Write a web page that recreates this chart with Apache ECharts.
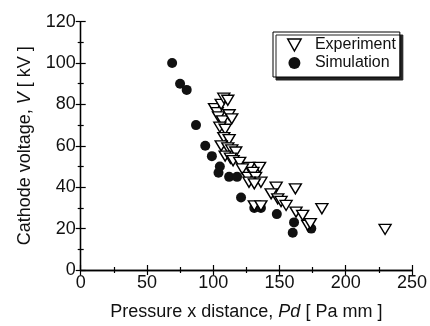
<!DOCTYPE html>
<html><head><meta charset="utf-8">
<script src="https://cdn.jsdelivr.net/npm/echarts@6/dist/echarts.min.js"></script>
<style>html,body{margin:0;padding:0;background:#fff}#c{width:430px;height:326px}</style>
</head><body><div id="c"></div>
<script>
// Experiment (Pd [Pa mm], V [kV])
var experimentPd = [101,103,106,108,111,104,107,112,114,105,109,108,112,106,111,114,117,109,113,115,120,127,135,122,130,126,132,136,127,131,131,136,147.5,162,143.7,148.7,151.2,155,162.5,167.5,171.3,182,173.3,229.7];
var experimentV  = [78,76,80,83,82,74,72,75,73,69,68,64,63,60,59,58,57,55,54,52.8,52,49.6,49.6,48.8,47.2,44.8,44.8,42.4,42.4,41.6,31,31,40,39.2,36.8,34.4,33.1,31.2,28,26.4,21.6,29.6,22.4,19.6];
// Simulation
var simulationPd = [69,75,80,87,94,99,105,104,112,118,121,131,136,148,161,160,174];
var simulationV  = [100,90,87,70,60,55,50,47,45,45,35,30,30,27,23,18,20];
var xTicks = [0,50,100,150,200,250];
var yTicks = [0,20,40,60,80,100,120];

function pairs(a,b){return a.map(function(v,i){return [v,b[i]];});}
var tri = 'path://M0,0 L10,0 L5,9 Z';
var font = 'Liberation Sans, Arial, sans-serif';
var chart = echarts.init(document.getElementById('c'));
function axisCommon(){ return {
  axisLine:{show:true,lineStyle:{color:'#000',width:1.3}},
  axisTick:{show:true,inside:true,length:5,lineStyle:{color:'#000',width:1.2}},
  minorTick:{show:true,splitNumber:2,length:3,lineStyle:{color:'#000',width:1.2}},
  splitLine:{show:false}
};}
var titleRich = {n:{fontFamily:font,fontSize:18,color:'#111'},i:{fontFamily:font,fontSize:18,fontStyle:'italic',color:'#111'}};
chart.setOption({
  animation:false,
  grid:{left:80.7,right:17,top:21.6,bottom:54.4},
  legend:{
    orient:'vertical', left:273, top:32,
    padding:[5,4,6,14], itemGap:2, itemWidth:15, itemHeight:12,
    backgroundColor:'#fff', borderColor:'#000', borderWidth:1,
    shadowColor:'#222', shadowOffsetX:3, shadowOffsetY:3, shadowBlur:0,
    textStyle:{fontFamily:font,fontSize:16,color:'#111',padding:[0,0,0,8]},
    data:[{name:'Experiment',icon:tri,itemStyle:{color:'#fff',borderColor:'#000',borderWidth:1.5}},
          {name:'Simulation',icon:'circle'}]
  },
  xAxis:[
    Object.assign({type:'value',min:xTicks[0],max:xTicks[xTicks.length-1],interval:50,position:'bottom',
      name:'{n|Pressure x distance, }{i|Pd}{n| [ Pa mm ]}',nameLocation:'middle',nameGap:33,
      nameTextStyle:{rich:titleRich},
      axisLabel:{fontFamily:font,fontSize:18,color:'#111',margin:4}},axisCommon()),
    Object.assign({type:'value',min:0,max:250,interval:50,position:'top',axisLabel:{show:false}},axisCommon())
  ],
  yAxis:[
    Object.assign({type:'value',min:yTicks[0],max:yTicks[yTicks.length-1],interval:20,position:'left',
      name:'{n|Cathode voltage, }{i|V}{n| [ kV ]}',nameLocation:'middle',nameGap:47,
      nameTextStyle:{rich:titleRich},
      axisLabel:{fontFamily:font,fontSize:18,color:'#111',margin:5}},axisCommon()),
    Object.assign({type:'value',min:0,max:120,interval:20,position:'right',axisLabel:{show:false}},axisCommon())
  ],
  series:[
    {name:'Experiment',type:'scatter',symbol:tri,symbolSize:[12,10],
     itemStyle:{color:'#fff',borderColor:'#000',borderWidth:1.4,opacity:1},
     data:pairs(experimentPd,experimentV),z:3},
    {name:'Simulation',type:'scatter',symbol:'circle',symbolSize:10,
     itemStyle:{color:'#111',opacity:1},
     data:pairs(simulationPd,simulationV),z:2}
  ]
});
</script></body></html>
